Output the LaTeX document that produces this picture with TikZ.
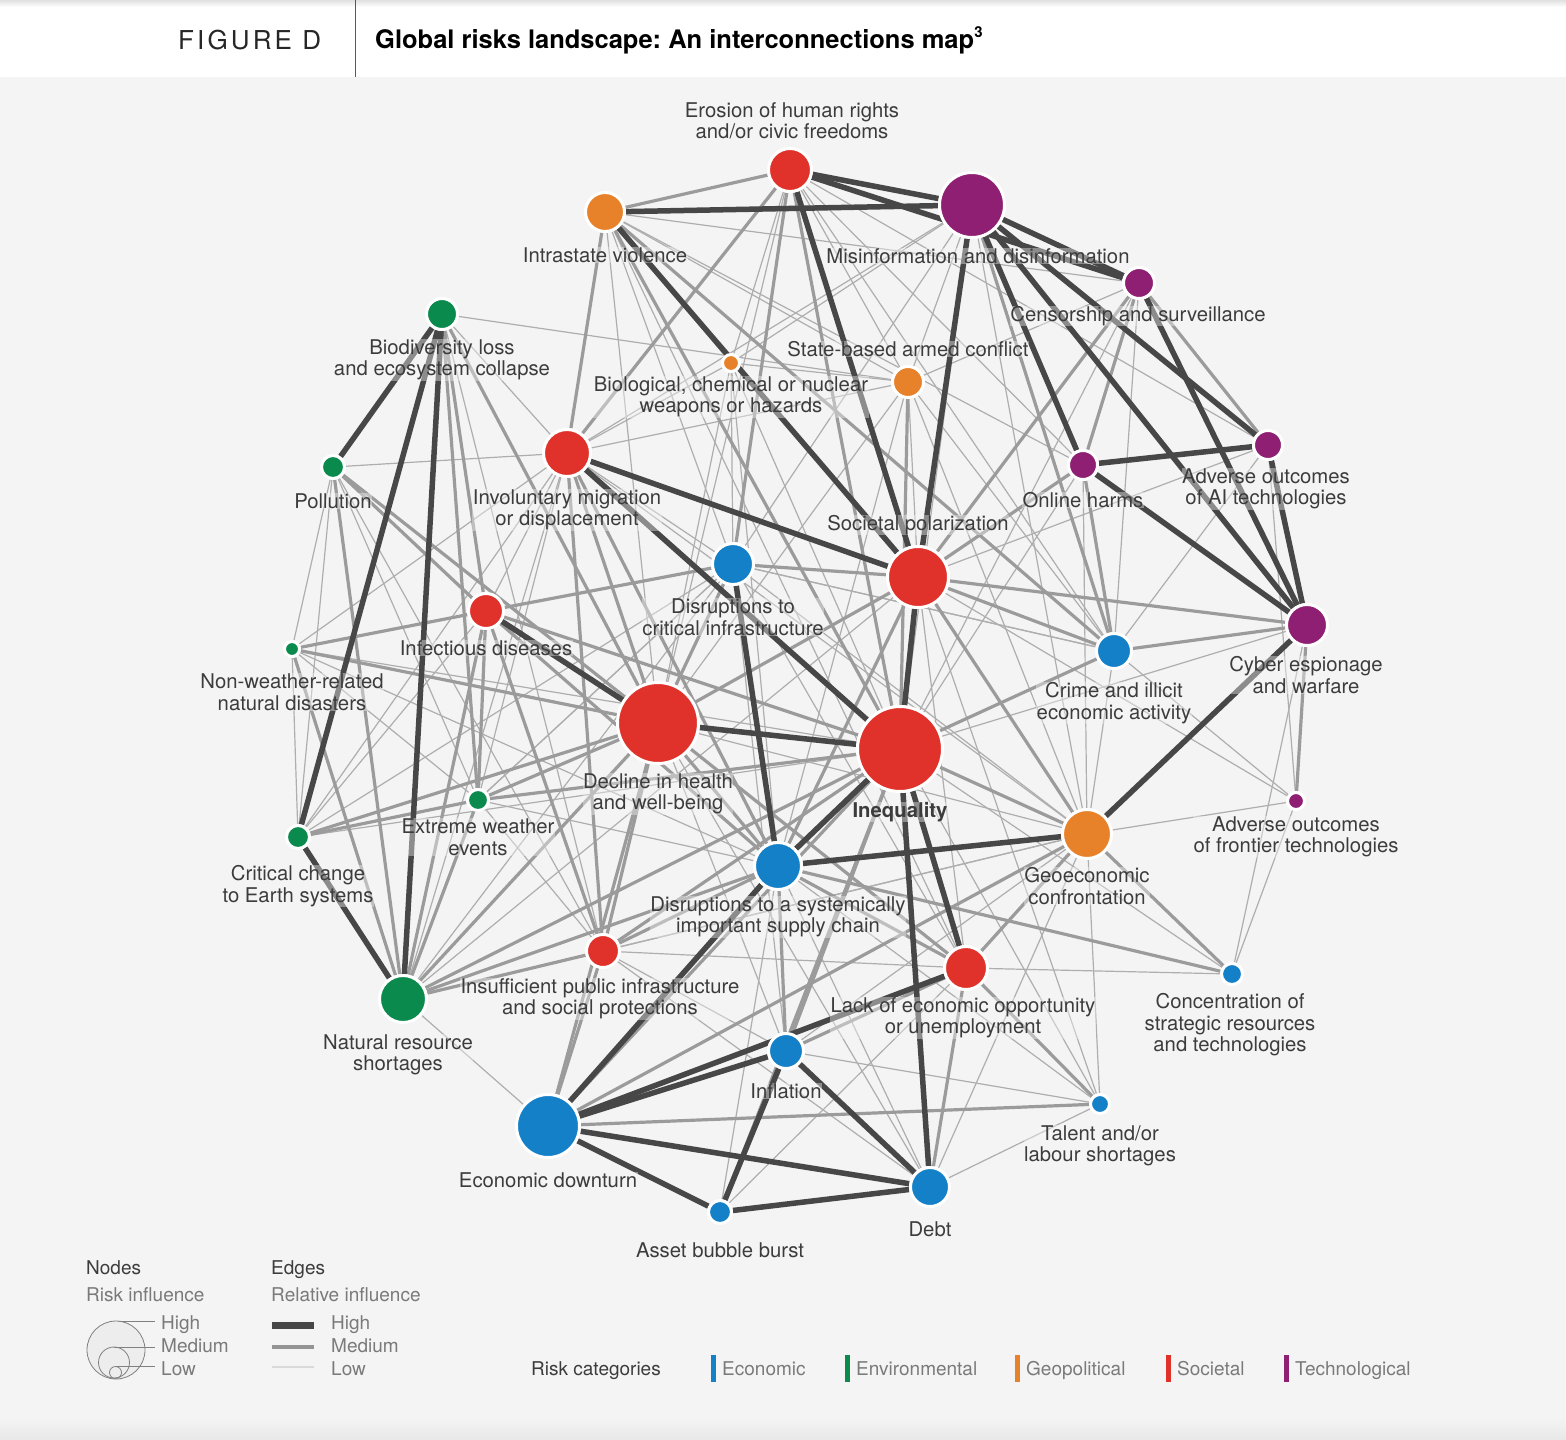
\documentclass[tikz,border=0pt]{standalone}
\usepackage{fontspec}
\setmainfont{TeX Gyre Heros}
\frenchspacing
\definecolor{bgc}{HTML}{F4F4F4}
\definecolor{eco}{HTML}{1380C8}
\definecolor{env}{HTML}{0B8A4E}
\definecolor{geo}{HTML}{E8822A}
\definecolor{soc}{HTML}{E0322A}
\definecolor{tec}{HTML}{8F1F73}
\definecolor{edgeH}{HTML}{474747}
\definecolor{edgeM}{HTML}{9B9B9B}
\definecolor{edgeL}{HTML}{AEAEAE}
\definecolor{txt}{HTML}{3C3C3C}
\definecolor{txtg}{HTML}{7A7A7A}
\pgfdeclarelayer{bgl}
\pgfdeclarelayer{edgel}
\pgfsetlayers{bgl,edgel,main}
\begin{document}
\begin{tikzpicture}[x=1pt,y=-1pt,
  rn/.style={circle, draw=white, line width=3pt, inner sep=0pt, minimum size=#1},
  lbl/.style={align=center, text=txt, font=\fontsize{20.3}{21.5}\selectfont, inner sep=0.5pt, fill=bgc, fill opacity=0.4, text opacity=1},
  eH/.style={draw=edgeH, line width=5.5pt},
  eM/.style={draw=edgeM, line width=3.2pt},
  eL/.style={draw=edgeL, line width=1.2pt},
  lgt/.style={anchor=base west, font=\fontsize{19}{21}\selectfont, inner sep=0pt}
]
\useasboundingbox (0,0) rectangle (1566,1440);
\begin{pgfonlayer}{bgl}
\fill[bgc] (0,0) rectangle (1566,1440);
\fill[white] (0,0) rectangle (1566,77);
\shade[top color=black!12, bottom color=white] (0,0) rectangle (1566,7);
\shade[top color=bgc, bottom color=black!9] (0,1418) rectangle (1566,1440);
\draw[black!65, line width=1pt] (355,0) -- (355,77);
\end{pgfonlayer}

% header
\node[anchor=base west, inner sep=0pt, text=black!85, font=\fontsize{26}{28}\selectfont\addfontfeature{LetterSpace=12}] (fig) at (178,49) {FIGURE D};
\node[anchor=base west, inner sep=0pt, text=black, font=\bfseries\fontsize{25.5}{28}\selectfont] (title) at (375,48) {Global risks landscape: An interconnections map\raisebox{0.42em}{\fontsize{15}{15}\selectfont 3}};

% risk nodes
\node[rn=43pt, fill=soc] (er) at (790,170) {};
\node[rn=39pt, fill=geo] (iv) at (605,212) {};
\node[rn=65pt, fill=tec] (mi) at (972,205) {};
\node[rn=31pt, fill=tec] (cs) at (1139,283) {};
\node[rn=31pt, fill=env] (bl) at (442,314) {};
\node[rn=17pt, fill=geo] (bc) at (731,363) {};
\node[rn=31pt, fill=geo] (sb) at (908,382) {};
\node[rn=47pt, fill=soc] (im) at (567,453) {};
\node[rn=23pt, fill=env] (po) at (333,467) {};
\node[rn=29pt, fill=tec] (oh) at (1083,465) {};
\node[rn=29pt, fill=tec] (ai) at (1268,445) {};
\node[rn=41pt, fill=eco] (ci) at (733,564) {};
\node[rn=61pt, fill=soc] (sp) at (918,577) {};
\node[rn=35pt, fill=soc] (id) at (486,611) {};
\node[rn=41pt, fill=tec] (ce) at (1307,625) {};
\node[rn=15pt, fill=env] (nw) at (292,649) {};
\node[rn=35pt, fill=eco] (cr) at (1114,651) {};
\node[rn=81pt, fill=soc] (dh) at (658,723) {};
\node[rn=85pt, fill=soc] (iq) at (900,749) {};
\node[rn=21pt, fill=env] (ew) at (478,800) {};
\node[rn=17pt, fill=tec] (af) at (1296,801) {};
\node[rn=23pt, fill=env] (cc) at (298,837) {};
\node[rn=49pt, fill=geo] (ge) at (1087,834) {};
\node[rn=47pt, fill=eco] (sc) at (778,866) {};
\node[rn=33pt, fill=soc] (ip) at (603,951) {};
\node[rn=43pt, fill=soc] (le) at (966,968) {};
\node[rn=21pt, fill=eco] (cn) at (1232,974) {};
\node[rn=47pt, fill=env] (nr) at (403,999) {};
\node[rn=35pt, fill=eco] (ifl) at (786,1051) {};
\node[rn=19pt, fill=eco] (ta) at (1100,1104) {};
\node[rn=63pt, fill=eco] (ed) at (548,1126) {};
\node[rn=39pt, fill=eco] (de) at (930,1187) {};
\node[rn=23pt, fill=eco] (ab) at (720,1212) {};

% connectors
\begin{pgfonlayer}{edgel}
\foreach \a/\b in {er/bc, er/sb, er/oh, er/dh, er/ai, er/cr, iv/bc, iv/dh, iv/ci, iv/sb, iv/oh, iv/le, iv/cs,
  mi/sb, mi/ci, mi/im, mi/bc, mi/ge, mi/iq, cs/sb, cs/cr, cs/iq, sb/sp, sb/ge, sb/cr, sb/im, sb/dh, sb/sc, sb/bc,
  bc/ci, bc/dh, bc/iq, bc/sc, bc/im, bl/im, bl/sb, bl/ip, ai/cr, ai/sp, ai/af, oh/iq, oh/ge, cr/ge, cr/af, cr/ci,
  ce/cn, ge/af, ge/ta, le/cn, sp/le, sp/ta, sp/af, ci/ge, ci/cr, ci/le, ci/ifl, ci/ew, im/id, im/ci, im/ge, im/nw,
  po/im, po/cc, po/nw, po/ew, po/ip, nw/cc, nw/iq, nw/ew, nw/sc, cc/id, cc/im, cc/iq, cc/ci, ew/im, ew/ci, ew/ip,
  ew/sc, nr/ge, nr/sp, nr/ci, nr/im, nr/ed, dh/ge, dh/ifl, dh/de, ip/ifl, ip/de, ip/le, ip/ge, sc/de, sc/ta,
  ab/le, ab/sc, de/ta, de/ge, ifl/ge, ifl/ta, iq/ta, iq/cn, iq/ce, af/cn}
  \draw[eL] (\a) -- (\b);
\foreach \a/\b in {er/iv, iv/im, iv/iq, er/im, er/ci, er/iq, cs/ai, cs/oh, cs/sp, oh/cr, mi/cr, cr/ce, sp/ce,
  iq/cr, iv/cr, ge/cn, sc/cn, le/ta, ed/ta, ifl/iq, ab/iq, le/de, ew/nr, nr/ip, nr/dh, cc/ew, cc/dh, ip/dh,
  po/id, po/dh, bl/dh, bl/id, bl/ew, im/dh, im/ip, ci/sp, ci/dh, dh/sc, dh/sp, ip/iq, ip/sc, nr/iq, nr/sc,
  nr/id, nr/nw, nr/po, ew/dh, ew/iq, ew/id, nw/dh, nw/id, id/iq, id/ci, id/ip, id/sc, ge/le, ge/iq, ge/ed,
  sp/ge, sp/cr, sp/oh, sp/sc, le/sc, le/ifl, ed/ip, ed/dh, ed/iq, sb/iq, sc/ifl, ce/af, dh/le, im/sc}
  \draw[eM] (\a) -- (\b);
\foreach \a/\b in {er/mi, iv/mi, er/cs, mi/cs, mi/sp, mi/oh, mi/ai, mi/ce, er/sp, iv/sp, oh/ai, oh/ce, cs/ce,
  ai/ce, ge/ce, sp/iq, im/sp, im/iq, ci/sc, dh/iq, id/dh, bl/po, bl/cc, bl/nr, cc/nr, iq/sc, sc/ge, iq/le,
  iq/de, ed/sc, ed/le, ed/ifl, ifl/de, ab/ifl, ab/de, ed/de, ed/ab}
  \draw[eH] (\a) -- (\b);
\end{pgfonlayer}

% labels
\node[lbl] (Ler) at (792,121) {Erosion of human rights\\and/or civic freedoms};
\node[lbl] (Liv) at (605,255) {Intrastate violence};
\node[lbl] (Lmi) at (978,256) {Misinformation and disinformation};
\node[lbl] (Lcs) at (1138,316) {Censorship and surveillance};
\node[lbl] (Lbl) at (442,360) {Biodiversity loss\\and ecosystem collapse};
\node[lbl] (Lbc) at (731,397) {Biological, chemical or nuclear\\weapons or hazards};
\node[lbl] (Lsb) at (908,349) {State-based armed conflict};
\node[lbl] (Lim) at (567,510) {Involuntary migration\\or displacement};
\node[lbl] (Lpo) at (333,501) {Pollution};
\node[lbl] (Loh) at (1083,500) {Online harms};
\node[lbl] (Lai) at (1266,489) {Adverse outcomes\\of AI technologies};
\node[lbl] (Lsp) at (918,525) {Societal polarization};
\node[lbl] (Lci) at (733,617) {Disruptions to\\critical infrastructure};
\node[lbl] (Lid) at (486,648) {Infectious diseases};
\node[lbl] (Lce) at (1306,675) {Cyber espionage\\and warfare};
\node[lbl] (Lnw) at (292,692) {Non-weather-related\\natural disasters};
\node[lbl] (Lcr) at (1114,703) {Crime and illicit\\economic activity};
\node[lbl] (Ldh) at (658,794) {Decline in health\\and well-being};
\node[lbl, font=\bfseries\fontsize{20.3}{21.5}\selectfont] (Liq) at (900,812) {Inequality};
\node[lbl] (Lew) at (478,837) {Extreme weather\\events};
\node[lbl] (Laf) at (1296,837) {Adverse outcomes\\of frontier technologies};
\node[lbl] (Lcc) at (298,886) {Critical change\\to Earth systems};
\node[lbl] (Lge) at (1087,886) {Geoeconomic\\confrontation};
\node[lbl] (Lsc) at (778,917) {Disruptions to a systemically\\important supply chain};
\node[lbl] (Lip) at (600,999) {Insufficient public infrastructure\\and social protections};
\node[lbl] (Lle) at (963,1018) {Lack of economic opportunity\\or unemployment};
\node[lbl] (Lcn) at (1230,1025) {Concentration of\\strategic resources\\and technologies};
\node[lbl] (Lnr) at (398,1055) {Natural resource\\shortages};
\node[lbl] (Lifl) at (786,1091) {Inflation};
\node[lbl] (Lta) at (1100,1146) {Talent and/or\\labour shortages};
\node[lbl] (Led) at (548,1180) {Economic downturn};
\node[lbl] (Lde) at (930,1229) {Debt};
\node[lbl] (Lab) at (720,1250) {Asset bubble burst};

% legend: nodes
\node[lgt, text=txt] (lgNodes) at (86,1274) {Nodes};
\node[lgt, text=txtg] (lgRisk) at (86,1301) {Risk influence};
\draw[black!50, fill=black!7, line width=0.8pt] (116,1350) circle (29pt);
\draw[black!50, line width=0.8pt] (114,1362.5) circle (15.5pt);
\draw[black!50, line width=0.8pt] (115.5,1372.5) circle (6pt);
\draw[black!50, line width=0.8pt] (119,1321) -- (155,1321);
\draw[black!50, line width=0.8pt] (114,1347) -- (155,1347);
\draw[black!50, line width=0.8pt] (116,1366.5) -- (155,1366.5);
\node[lgt, text=txtg] (lgNH) at (161,1329) {High};
\node[lgt, text=txtg] (lgNM) at (161,1352) {Medium};
\node[lgt, text=txtg] (lgNL) at (161,1375) {Low};
% legend: edges
\node[lgt, text=txt] (lgEdges) at (271,1274) {Edges};
\node[lgt, text=txtg] (lgRel) at (271,1301) {Relative influence};
\draw[edgeH, line width=7pt] (272,1325) -- (314,1325);
\draw[black!42, line width=4pt] (272,1347) -- (314,1347);
\draw[black!15, line width=2pt] (272,1367) -- (314,1367);
\node[lgt, text=txtg] (lgEH) at (331,1329) {High};
\node[lgt, text=txtg] (lgEM) at (331,1352) {Medium};
\node[lgt, text=txtg] (lgEL) at (331,1375) {Low};
% legend: categories
\node[lgt, text=txt] (lgCat) at (531,1375) {Risk categories};
\draw[eco, line width=5pt] (713,1355) -- (713,1382);
\node[lgt, text=txtg] (lgEco) at (722,1375) {Economic};
\draw[env, line width=5pt] (847,1355) -- (847,1382);
\node[lgt, text=txtg] (lgEnv) at (856,1375) {Environmental};
\draw[geo, line width=5pt] (1017,1355) -- (1017,1382);
\node[lgt, text=txtg] (lgGeo) at (1026,1375) {Geopolitical};
\draw[soc, line width=5pt] (1168,1355) -- (1168,1382);
\node[lgt, text=txtg] (lgSoc) at (1177,1375) {Societal};
\draw[tec, line width=5pt] (1286,1355) -- (1286,1382);
\node[lgt, text=txtg] (lgTec) at (1295,1375) {Technological};
\end{tikzpicture}
\end{document}
